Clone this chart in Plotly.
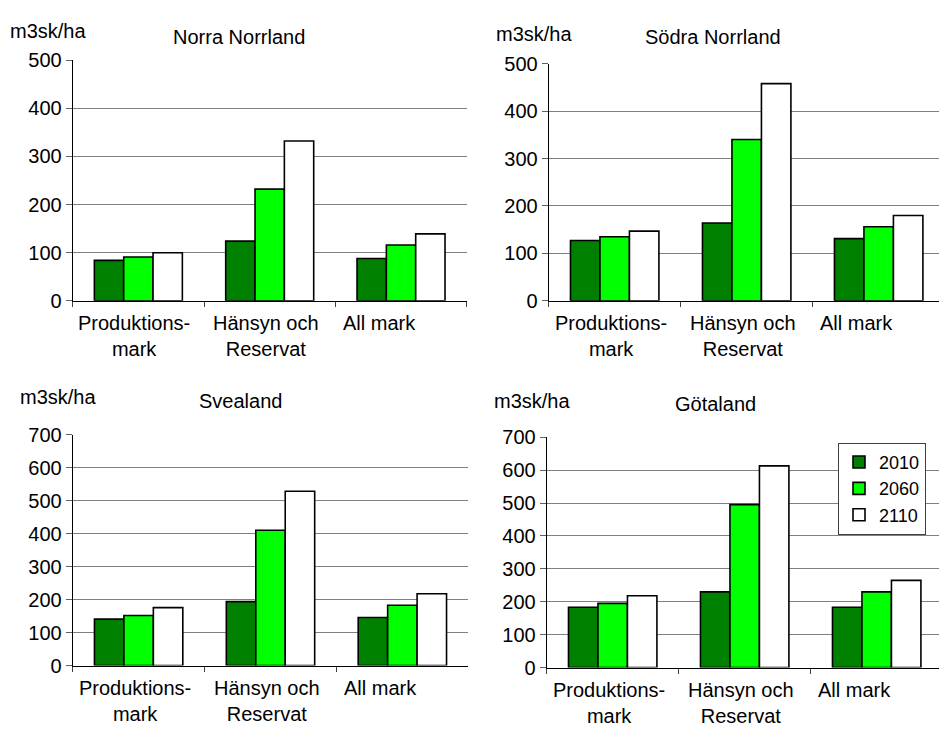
import plotly.graph_objects as go

# Volume per hectare by land category and year, four regions
categories = ["Produktionsmark", "Hänsyn och Reservat", "All mark"]
category_labels = ["Produktions-<br>mark", "Hänsyn och<br>Reservat", "All mark"]
label_shift = [-4, -4, -22]
years = ["2010", "2060", "2110"]
year_colors = ["#008000", "#00FF00", "#FFFFFF"]

regions = ["Norra Norrland", "Södra Norrland", "Svealand", "Götaland"]
y_max = [500, 500, 700, 700]

norra_norrland = {"2010": [84, 124, 88], "2060": [91, 232, 116], "2110": [100, 332, 139]}
sodra_norrland = {"2010": [127, 164, 131], "2060": [135, 340, 156], "2110": [147, 458, 180]}
svealand = {"2010": [141, 194, 146], "2060": [152, 411, 183], "2110": [176, 529, 218]}
gotaland = {"2010": [183, 230, 183], "2060": [195, 495, 230], "2110": [218, 613, 265]}
region_values = [norra_norrland, sodra_norrland, svealand, gotaland]

W, H = 939, 738
FONT = "Liberation Sans, Arial, sans-serif"

# panel boxes in pixels: left, right, top, bottom, visible category span
panels = [
    (72.7, 466.7, 50.7, 298.7, 2.5),
    (548.7, 939.0, 54.3, 298.7, 2.457),
    (72.7, 468.3, 437.0, 674.7, 2.5),
    (546.7, 939.0, 439.3, 676.7, 2.472),
]
title_pos = [(239, 27), (713, 27), (241, 402), (715, 405)]
unit_pos = [(8, 21), (494, 24), (18, 398), (492, 402)]


def px(x):
    return x / W


def py(y):
    return 1 - y / H


fig = go.Figure()
layout = dict(
    width=W, height=H,
    margin=dict(l=0, r=0, t=0, b=0),
    paper_bgcolor="white", plot_bgcolor="white",
    barmode="group", bargap=0.33, bargroupgap=0,
    font=dict(family=FONT, size=20, color="black"),
    showlegend=True,
    legend=dict(
        x=px(838), y=py(445), xanchor="left", yanchor="top",
        bordercolor="#404040", borderwidth=1, bgcolor="white",
        font=dict(family=FONT, size=18, color="black"),
        tracegroupgap=0, entrywidth=60, entrywidthmode="pixels",
    ),
)
annotations = []

for i, (region, vals) in enumerate(zip(regions, region_values)):
    n = "" if i == 0 else str(i + 1)
    xa, ya = "x" + n, "y" + n
    for year, color in zip(years, year_colors):
        fig.add_trace(go.Bar(
            x=categories, y=vals[year], name=year,
            marker=dict(color=color, line=dict(color="black", width=1.6)),
            xaxis=xa, yaxis=ya,
            showlegend=(i == 3),
        ))
    left, right, top, bottom, span = panels[i]
    layout["xaxis" + n] = dict(
        domain=[px(left), px(right)], anchor=ya,
        type="category", range=[-0.5, span],
        showticklabels=False, ticks="outside", tickson="boundaries",
        ticklen=5, tickcolor="#404040", showgrid=False,
        showline=True, linecolor="black", linewidth=1, zeroline=False,
        fixedrange=True,
    )
    layout["yaxis" + n] = dict(
        domain=[py(bottom), py(top)], anchor=xa,
        range=[0, y_max[i]], dtick=100,
        ticks="outside", ticklen=6, tickcolor="#606060",
        showgrid=True, gridcolor="#808080", gridwidth=1,
        showline=True, linecolor="black", linewidth=1, zeroline=False,
        tickfont=dict(family=FONT, size=20, color="black"),
        fixedrange=True,
    )
    tx, ty = title_pos[i]
    annotations.append(dict(
        text=region, x=px(tx), y=py(ty), xref="paper", yref="paper",
        xanchor="center", yanchor="middle", showarrow=False,
        font=dict(family=FONT, size=20, color="black"),
    ))
    ux, uy = unit_pos[i]
    annotations.append(dict(
        text="m3sk/ha", x=px(ux), y=py(uy), xref="paper", yref="paper",
        xanchor="left", yanchor="middle", showarrow=False,
        font=dict(family=FONT, size=20, color="black"),
    ))
    for cat, lab, dx in zip(categories, category_labels, label_shift):
        annotations.append(dict(
            text=lab, x=cat, y=0, xref=xa, yref=ya,
            xanchor="center", yanchor="top", yshift=-9, xshift=dx,
            showarrow=False, align="center",
            font=dict(family=FONT, size=20, color="black"),
        ))

layout["annotations"] = annotations
fig.update_layout(**layout)
fig.write_html("out.html")
